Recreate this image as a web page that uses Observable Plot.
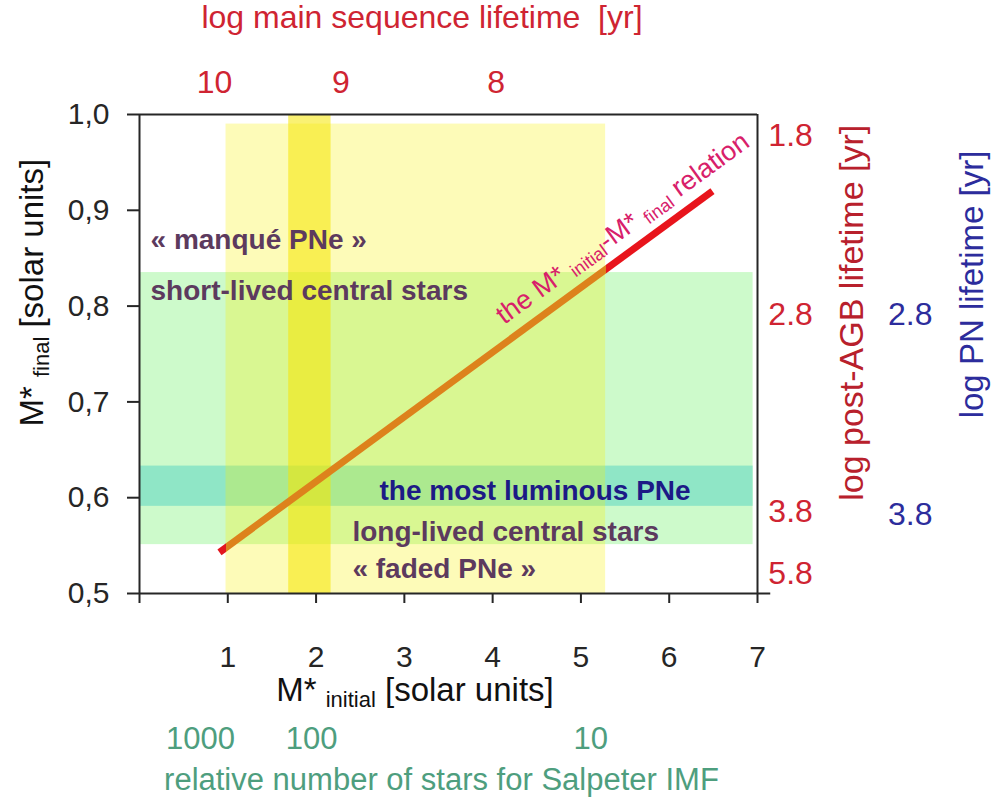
<!DOCTYPE html>
<html><head><meta charset="utf-8">
<script src="https://cdn.jsdelivr.net/npm/d3@7"></script>
<script src="https://cdn.jsdelivr.net/npm/@observablehq/plot@0.6"></script>
<style>html,body{margin:0;padding:0;background:#fff}</style>
</head><body><div id="chart"></div>
<script>
// ---- data ----
const xTicks = [0, 1, 2, 3, 4, 5, 6, 7];
const yTicks = [0.5, 0.6, 0.7, 0.8, 0.9, 1.0];
const relationX = [0.906, 6.49];          // M*initial
const relationY = [0.543, 0.920];         // M*final
const bandX = [0, 6.95];
const centralStarBandY = [0.551, 0.835];  // long/short-lived central stars
const luminousBandY = [0.591, 0.633];     // the most luminous PNe
const yellowX = [0.98, 5.28];
const yellowY = [0.5, 0.99];
const darkYellowX = [1.69, 2.17];
const darkYellowY = [0.5, 1.0];
const msLifetimeLabels = ["10", "9", "8"];
const msLifetimeAt = [0.85, 2.28, 4.04];
const postAGBLabels = ["1.8", "2.8", "3.8", "5.8"];
const postAGBAt = [0.978, 0.791, 0.5856, 0.5209];
const pnLabels = ["2.8", "3.8"];
const pnAt = [0.791, 0.5825];
const imfLabels = ["1000", "100", "10"];
const imfAt = [0.69, 1.95, 5.11];
const annotText = ["« manqué PNe »", "short-lived central stars", "the most luminous PNe", "long-lived central stars", "« faded PNe »"];
const annotX = [0.125, 0.125, 2.718, 2.412, 2.412];
const annotY = [0.860, 0.806, 0.598, 0.5553, 0.5167];
const annotColor = ["#5c3a5e", "#5c3a5e", "#1c1a86", "#5c3a5e", "#5c3a5e"];

const fontFamily = '"Liberation Sans", Arial, Helvetica, sans-serif';
const RED = "#cf2432", BLUE = "#2c2c9c", GREEN = "#4e9e7e", AX = "#262626";

const relRows = relationX.map((x, i) => ({x, y: relationY[i]}));
const rectRow = (xs, ys) => [{x1: xs[0], x2: xs[1], y1: ys[0], y2: ys[1]}];
const one = (t, x, y, extra) => Plot.text([t], {x: () => x, y: () => y, text: d => d, ...extra});

const chart = Plot.plot({
  width: 1000, height: 802,
  marginLeft: 139, marginRight: 243, marginTop: 114, marginBottom: 209,
  x: {domain: [0, 7]},
  y: {domain: [0.5, 1.0]},
  color: {type: "identity"},
  style: {fontFamily, background: "#fff", overflow: "visible"},
  marks: [
    Plot.rect(rectRow(bandX, centralStarBandY), {x1: "x1", x2: "x2", y1: "y1", y2: "y2", fill: "#cdfacb"}),
    Plot.rect(rectRow(bandX, luminousBandY), {x1: "x1", x2: "x2", y1: "y1", y2: "y2", fill: "#8fe6c6"}),
    Plot.rect(rectRow(yellowX, yellowY), {x1: "x1", x2: "x2", y1: "y1", y2: "y2", fill: "#f8f000", fillOpacity: 0.28}),
    Plot.rect(rectRow(darkYellowX, darkYellowY), {x1: "x1", x2: "x2", y1: "y1", y2: "y2", fill: "#f6e600", fillOpacity: 0.55}),
    Plot.line(relRows, {x: "x", y: "y", stroke: "url(#relGrad)", strokeWidth: 7, strokeLinecap: "butt"}),
    // frame
    Plot.ruleX([0], {y1: 0.5, y2: 1.0, stroke: AX, strokeWidth: 2}),
    Plot.ruleX([7], {y1: 0.5, y2: 1.0, stroke: AX, strokeWidth: 2}),
    Plot.ruleY([1.0], {x1: 0, x2: 7, stroke: AX, strokeWidth: 2}),
    Plot.ruleY([0.5], {x1: 0, x2: 7.15, stroke: AX, strokeWidth: 2}),
    Plot.axisX({ticks: xTicks, tickFormat: d => d === 0 ? "" : String(d), tickSize: 10, tickPadding: 42,
      fontSize: 30, color: AX, strokeWidth: 2, label: null}),
    Plot.axisY({ticks: yTicks, tickFormat: d => d.toFixed(1).replace(".", ","), tickSize: 12, tickPadding: 18,
      fontSize: 30, color: AX, strokeWidth: 2, label: null}),
    // annotations
    Plot.text(annotText, {x: (d, i) => annotX[i], y: (d, i) => annotY[i], text: d => d, fill: (d, i) => annotColor[i],
      textAnchor: "start", lineAnchor: "bottom", fontSize: 28, fontWeight: "bold"}),
    one("the M* initial-M* final relation", 5.53, 0.874,
      {rotate: -36, textAnchor: "middle", lineAnchor: "bottom", fontSize: 27, fill: "#d8206a"}),
    // top axis
    one("log main sequence lifetime  [yr]", 3.2, 1.0898, {textAnchor: "middle", lineAnchor: "bottom", fontSize: 32, fill: RED}),
    Plot.text(msLifetimeLabels, {x: (d, i) => msLifetimeAt[i], y: () => 1.022, text: d => d, textAnchor: "middle",
      lineAnchor: "bottom", fontSize: 32, fill: RED}),
    // right axes
    Plot.text(postAGBLabels, {x: () => 7.123, y: (d, i) => postAGBAt[i], text: d => d, textAnchor: "start",
      lineAnchor: "middle", fontSize: 32, fill: RED}),
    one("log post-AGB lifetime [yr]", 8.19, 0.793, {rotate: -90, textAnchor: "middle", lineAnchor: "bottom", fontSize: 34, fill: "#b8202c"}),
    Plot.text(pnLabels, {x: () => 8.73, y: (d, i) => pnAt[i], text: d => d, textAnchor: "middle",
      lineAnchor: "middle", fontSize: 32, fill: BLUE}),
    one("log PN lifetime [yr]", 9.55, 0.8226, {rotate: -90, textAnchor: "middle", lineAnchor: "bottom", fontSize: 33, fill: BLUE}),
    // left title
    one("M* final [solar units]", -1.098, 0.814, {rotate: -90, textAnchor: "middle", lineAnchor: "bottom", fontSize: 33, fill: "#111"}),
    // bottom
    one("M* initial [solar units]", 3.12, 0.3873, {textAnchor: "middle", lineAnchor: "bottom", fontSize: 33, fill: "#111"}),
    Plot.text(imfLabels, {x: (d, i) => imfAt[i], y: () => 0.3372, text: d => d, textAnchor: "middle",
      lineAnchor: "bottom", fontSize: 31, fill: GREEN}),
    one("relative number of stars for Salpeter IMF", 3.42, 0.2944, {textAnchor: "middle", lineAnchor: "bottom", fontSize: 31, fill: GREEN})
  ]
});

// gradient for the relation line: orange where it crosses the yellow band, red elsewhere
const span = relationX[1] - relationX[0];
const f1 = ((yellowX[0] - relationX[0]) / span * 100).toFixed(2);
const f2 = ((yellowX[1] - relationX[0]) / span * 100).toFixed(2);
const ns = "http://www.w3.org/2000/svg";
const defs = document.createElementNS(ns, "defs");
defs.innerHTML = `<linearGradient id="relGrad" x1="0" y1="0" x2="1" y2="0">
  <stop offset="0%" stop-color="#e2161e"/><stop offset="${f1}%" stop-color="#e2161e"/>
  <stop offset="${f1}%" stop-color="#dd821c"/><stop offset="${f2}%" stop-color="#dd821c"/>
  <stop offset="${f2}%" stop-color="#e8141c"/><stop offset="100%" stop-color="#e8141c"/></linearGradient>`;
chart.insertBefore(defs, chart.firstChild);

// subscripts
const rich = {
  "M* initial [solar units]": [["M* "], ["initial", 22, 6], [" [solar units]"]],
  "M* final [solar units]": [["M* "], ["final", 22, 6], [" [solar units]"]],
  "the M* initial-M* final relation": [["the M* "], ["initial", 18, 4], ["-M* "], ["final", 18, 4], [" relation"]]
};
d3.select(chart).selectAll("text").each(function () {
  const parts = rich[this.textContent];
  if (!parts) return;
  this.textContent = "";
  let shift = 0;
  for (const [s, size, dy] of parts) {
    const ts = document.createElementNS(ns, "tspan");
    ts.textContent = s;
    const target = dy || 0;
    if (target !== shift) ts.setAttribute("dy", target - shift);
    shift = target;
    if (size) ts.setAttribute("font-size", size);
    this.appendChild(ts);
  }
});

document.getElementById("chart").appendChild(chart);
</script>
</body></html>
